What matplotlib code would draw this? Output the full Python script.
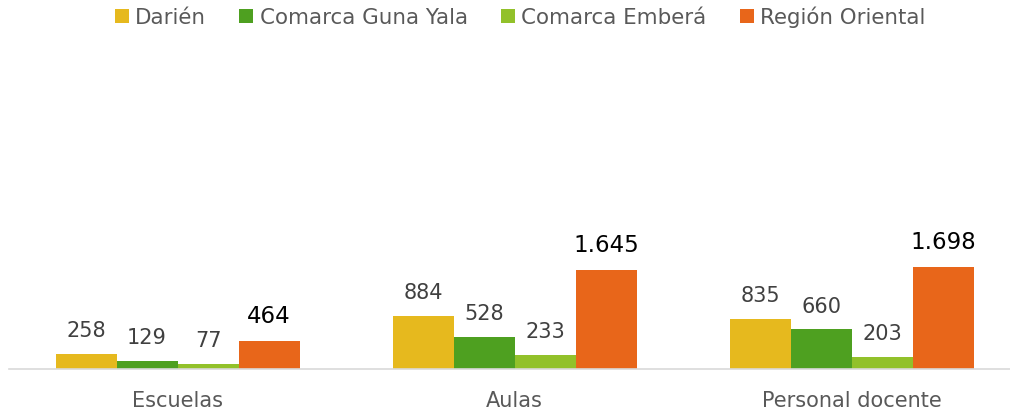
import matplotlib
matplotlib.use("Agg")
import matplotlib.pyplot as plt
import numpy as np

categories = ["Escuelas", "Aulas", "Personal docente"]
series_names = ["Darién", "Comarca Guna Yala", "Comarca Emberá", "Región Oriental"]
darien = [258, 884, 835]
guna_yala = [129, 528, 660]
embera = [77, 233, 203]
oriental = [464, 1645, 1698]
colors = ["#E6B91E", "#4EA020", "#92C12A", "#E8661A"]

plt.rcParams['font.family'] = ['DejaVu Sans']
fig = plt.figure(figsize=(10.10, 4.14), dpi=100)
ax = fig.add_axes([9/1010, 44/414, 1 - 9/1010, 330/414])

data = [darien, guna_yala, embera, oriental]
x = np.arange(len(categories))
w = 0.181
for i, (vals, name, c) in enumerate(zip(data, series_names, colors)):
    pos = x + (i - 1.5) * w
    ax.bar(pos, vals, width=w, color=c, label=name)
    for p, v in zip(pos, vals):
        txt = f"{v:,}".replace(",", ".")
        if i == 3:
            ax.annotate(txt, (p, v), xytext=(0, 10), textcoords="offset points",
                        ha="center", va="bottom", fontsize=16.5, color="black")
        else:
            ax.annotate(txt, (p, v), xytext=(0, 10), textcoords="offset points",
                        ha="center", va="bottom", fontsize=15, color="#404040")

ax.set_xlim(-0.5, 2.47)
ax.set_ylim(0, 5500)
ax.set_yticks([])
for s in ["top", "right", "left"]:
    ax.spines[s].set_visible(False)
ax.spines["bottom"].set_color("#D9D9D9")
ax.spines["bottom"].set_linewidth(1.2)
ax.set_xticks(x)
ax.set_xticklabels(categories, fontsize=15, color="#595959")
ax.tick_params(axis="x", length=0, pad=15)

fig.legend(loc="upper center", bbox_to_anchor=(0.515, 1.03), ncol=4, frameon=False,
           fontsize=15.4, handlelength=0.65, handleheight=0.65, handletextpad=0.3,
           columnspacing=1.55, labelcolor="#595959")
fig.savefig("out.png", dpi=100)
